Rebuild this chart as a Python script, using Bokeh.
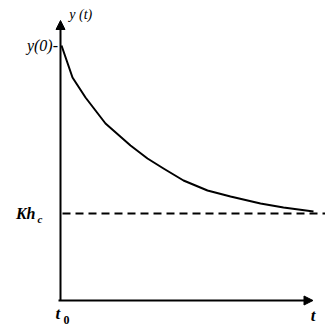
from bokeh.plotting import figure
from bokeh.models import Range1d, Arrow, NormalHead
from bokeh.core.properties import value
from bokeh.embed import file_html
from bokeh.resources import INLINE

# Response y(t) decaying from y(0) toward the steady level K*h_c
t_curve = [0.04, 0.48, 1.0, 1.8, 2.8, 3.48, 4.12, 4.92, 5.88, 6.8, 8.0, 8.92, 10.12]
y_curve = [10.2, 8.92, 8.12, 7.08, 6.2, 5.68, 5.28, 4.8, 4.4, 4.16, 3.88, 3.72, 3.56]
y0_level = 10.2
khc_level = 3.48
t_end = 10.1
y_top = 11.2

FONT = value("Liberation Serif")

p = figure(width=325, height=327, output_backend="svg", toolbar_location=None,
           x_range=Range1d(-2.4, 10.6), y_range=Range1d(-1.08, 12.0),
           x_axis_location=None, y_axis_location=None, min_border=0)
p.grid.visible = False
p.outline_line_color = None
p.background_fill_color = "white"

# axes with arrow heads
p.add_layout(Arrow(x_start=-0.08, y_start=0, x_end=t_end, y_end=0,
                   line_width=2, line_color="black",
                   end=NormalHead(size=9, fill_color="black", line_color="black")))
p.add_layout(Arrow(x_start=0, y_start=0, x_end=0, y_end=y_top,
                   line_width=2, line_color="black",
                   end=NormalHead(size=9, fill_color="black", line_color="black")))

# steady-state level
p.line([0.08, 10.6], [khc_level, khc_level], line_width=2, line_color="black",
       line_dash="8 5")

# response curve
p.line(t_curve, y_curve, line_width=2, line_color="black", line_join="round")

# labels
p.text(x=[-0.1], y=[y0_level], text=["y(0)-"], text_align="right",
       text_baseline="middle", text_font=FONT, text_font_style="italic",
       text_font_size="16px", text_color="black")
p.text(x=[0.35], y=[y_top + 0.25], text=["y (t)"], text_align="left",
       text_baseline="middle", text_font=FONT, text_font_style="italic",
       text_font_size="14px", text_color="black")
p.text(x=[-1.0], y=[khc_level], text=["Kh"], text_align="right",
       text_baseline="middle", text_font=FONT, text_font_style="bold italic",
       text_font_size="16px", text_color="black")
p.text(x=[-0.92], y=[khc_level - 0.2], text=["c"], text_align="left",
       text_baseline="middle", text_font=FONT, text_font_style="bold italic",
       text_font_size="11px", text_color="black")
p.text(x=[-0.2], y=[-0.5], text=["t"], text_align="left",
       text_baseline="middle", text_font=FONT, text_font_style="bold italic",
       text_font_size="17px", text_color="black")
p.text(x=[0.12], y=[-0.78], text=["0"], text_align="left",
       text_baseline="middle", text_font=FONT, text_font_style="bold",
       text_font_size="12px", text_color="black")
p.text(x=[t_end], y=[-0.6], text=["t"], text_align="center",
       text_baseline="middle", text_font=FONT, text_font_style="bold italic",
       text_font_size="17px", text_color="black")

open("out.html", "w").write(file_html(p, INLINE))
